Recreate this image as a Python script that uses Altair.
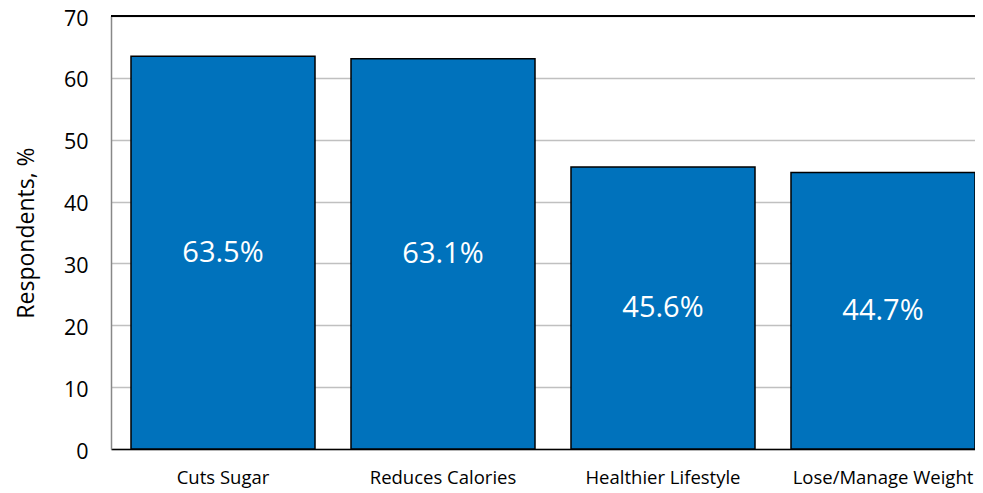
import altair as alt
import pandas as pd

categories = ["Cuts Sugar", "Reduces Calories", "Healthier Lifestyle", "Lose/Manage Weight"]
values = [63.5, 63.1, 45.6, 44.7]
labels = ["63.5%", "63.1%", "45.6%", "44.7%"]

df = pd.DataFrame({"cat": categories, "val": values, "lab": labels})
df["mid"] = df["val"] / 2

FONT = "Open Sans"

x = alt.X("cat:N", sort=categories, title=None,
          scale=alt.Scale(paddingInner=0.1636, paddingOuter=0.04545, align=1),
          axis=alt.Axis(labelAngle=0, labelFontSize=18.5, labelFont=FONT, labelColor="#000000",
                        labelPadding=19, labelLimit=400, ticks=False,
                        domainColor="#000000", domainWidth=1.5))
y = alt.Y("val:Q", title="Respondents, %",
          scale=alt.Scale(domain=[0, 70], nice=False),
          axis=alt.Axis(values=[0, 10, 20, 30, 40, 50, 60, 70], labelFontSize=21.5, labelFont=FONT,
                        labelColor="#000000", labelPadding=23, labelOffset=3, ticks=False,
                        domainColor="#888888", domainWidth=1.5,
                        gridColor="#c0c0c0", gridWidth=1.5,
                        titleFontSize=23, titleFont=FONT, titleFontWeight="normal",
                        titleColor="#000000", titlePadding=25))

bars = alt.Chart(df).mark_bar(color="#0072BC", stroke="#000000", strokeWidth=1.5).encode(x=x, y=y)

text = alt.Chart(df).mark_text(color="white", fontSize=29, font=FONT, baseline="middle").encode(
    x=alt.X("cat:N", sort=categories), y=alt.Y("mid:Q"), text="lab:N")

top = alt.Chart(pd.DataFrame({"v": [70]})).mark_rule(color="#000000", strokeWidth=2).encode(
    y=alt.Y("v:Q"))

chart = alt.layer(bars, text, top).properties(
    width=864, height=433,
    autosize=alt.AutoSizeParams(type="none"),
    padding={"left": 103, "top": 8, "right": 0, "bottom": 40},
).configure_view(stroke=None).configure(background="white")

chart.save("out.html", embed_options={"renderer": "svg", "actions": False})
